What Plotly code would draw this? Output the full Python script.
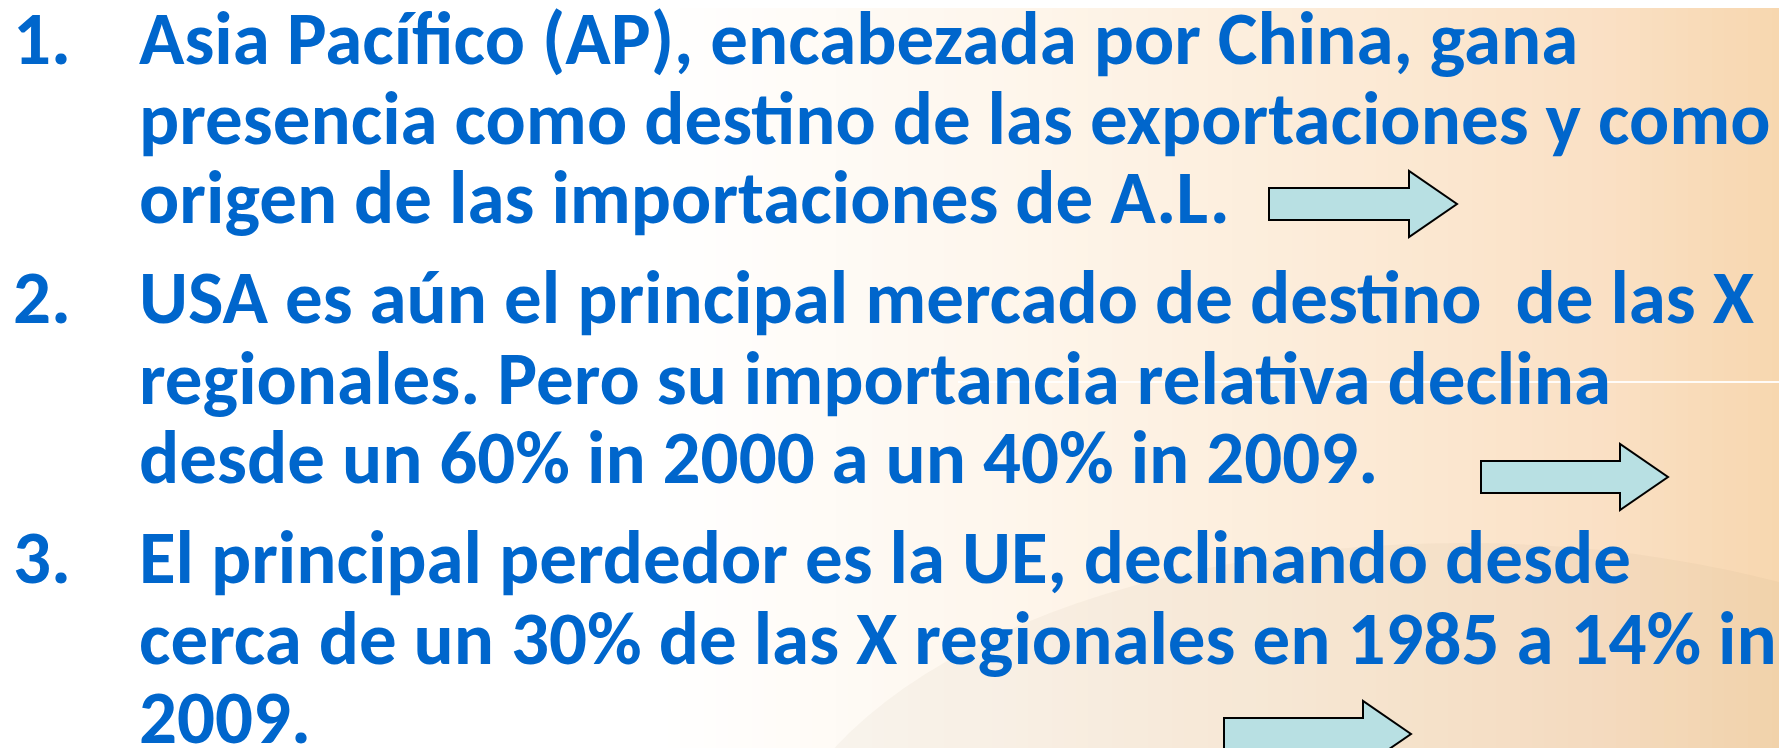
import plotly.graph_objects as go

W, H = 1787, 748

# ---- content ----
item_numbers = ["1.", "2.", "3."]
item_lines = [
    ["Asia Pacífico (AP), encabezada por China, gana",
     "presencia como destino de las exportaciones y como",
     "origen de las importaciones de A.L."],
    ["USA es aún el principal mercado de destino  de las X",
     "regionales. Pero su importancia relativa declina",
     "desde un 60% in 2000 a un 40% in 2009."],
    ["El principal perdedor es la UE, declinando desde",
     "cerca de un 30% de las X regionales en 1985 a 14% in",
     "2009."],
]
# baselines of every text line (pixels from top)
line_baselines = [[63, 143, 222], [322, 403, 482], [582, 663, 742]]
# arrows: (left of body, tip x, centre y)
arrow_left = [1261, 1473, 1216]
arrow_tip = [1449, 1660, 1403]
arrow_y = [196, 469, 726]

TEXT_COLOR = "#0066CC"
FONT = "Carlito, 'Liberation Sans Narrow', Lato, sans-serif"
FS = 75
NUM_X = 3
TEXT_X = 129

fig = go.Figure()

shapes = []
# background gradient (vertical strips)
stops = [(0, (255, 255, 255)), (650, (255, 255, 255)), (1000, (254, 246, 236)),
         (1300, (252, 236, 217)), (1600, (250, 224, 196)), (1787, (247, 214, 173))]

def col_at(x):
    for (x0, c0), (x1, c1) in zip(stops[:-1], stops[1:]):
        if x0 <= x <= x1:
            t = (x - x0) / (x1 - x0) if x1 > x0 else 0
            return tuple(round(a + (b - a) * t) for a, b in zip(c0, c1))
    return stops[-1][1]

step = 12
for x0 in range(0, W, step):
    c = col_at(x0 + step / 2)
    shapes.append(dict(type="rect", xref="x", yref="y", x0=x0, x1=min(x0 + step + 1, W),
                       y0=0, y1=H, fillcolor="rgb(%d,%d,%d)" % c, line=dict(width=0),
                       layer="below"))
# faint table-like ellipse bottom right
shapes.append(dict(type="circle", xref="x", yref="y", x0=760, x1=2150, y0=535, y1=1250,
                   fillcolor="rgba(160,130,100,0.06)", line=dict(width=0), layer="below"))
# faint white horizontal line
shapes.append(dict(type="line", xref="x", yref="y", x0=950, x1=W, y0=374, y1=374,
                   line=dict(color="rgba(255,255,255,0.9)", width=2), layer="below"))

# block arrows
BODY_H = 32
HEAD_H = 66
HEAD_L = 48
for xl, xt, yc in zip(arrow_left, arrow_tip, arrow_y):
    xb = xt - HEAD_L
    path = ("M {xl},{a} L {xb},{a} L {xb},{ha} L {xt},{yc} L {xb},{hb} L {xb},{b} L {xl},{b} Z"
            .format(xl=xl, xb=xb, xt=xt, yc=yc, a=yc - BODY_H / 2, b=yc + BODY_H / 2,
                    ha=yc - HEAD_H / 2, hb=yc + HEAD_H / 2))
    shapes.append(dict(type="path", xref="x", yref="y", path=path,
                       fillcolor="#B8E0E3", line=dict(color="#000000", width=2)))

annotations = []
off = 0.35 * FS + 6
for num, lines, bases in zip(item_numbers, item_lines, line_baselines):
    annotations.append(dict(x=NUM_X, y=bases[0] - off, xref="x", yref="y", text="<b>%s</b>" % num,
                            showarrow=False, xanchor="left", yanchor="middle",
                            font=dict(family=FONT, size=FS, color=TEXT_COLOR)))
    for txt, b in zip(lines, bases):
        annotations.append(dict(x=TEXT_X, y=b - off, xref="x", yref="y",
                                text="<b>%s</b>" % txt.replace("  ", "&nbsp; "),
                                showarrow=False, xanchor="left", yanchor="middle",
                                font=dict(family=FONT, size=FS, color=TEXT_COLOR)))

fig.update_layout(
    width=W, height=H,
    margin=dict(l=0, r=0, t=0, b=0),
    paper_bgcolor="white", plot_bgcolor="white",
    xaxis=dict(range=[0, W], visible=False, fixedrange=True),
    yaxis=dict(range=[H, 0], visible=False, fixedrange=True),
    shapes=shapes, annotations=annotations, showlegend=False,
)
fig.write_html("out.html", config={"displayModeBar": False})
